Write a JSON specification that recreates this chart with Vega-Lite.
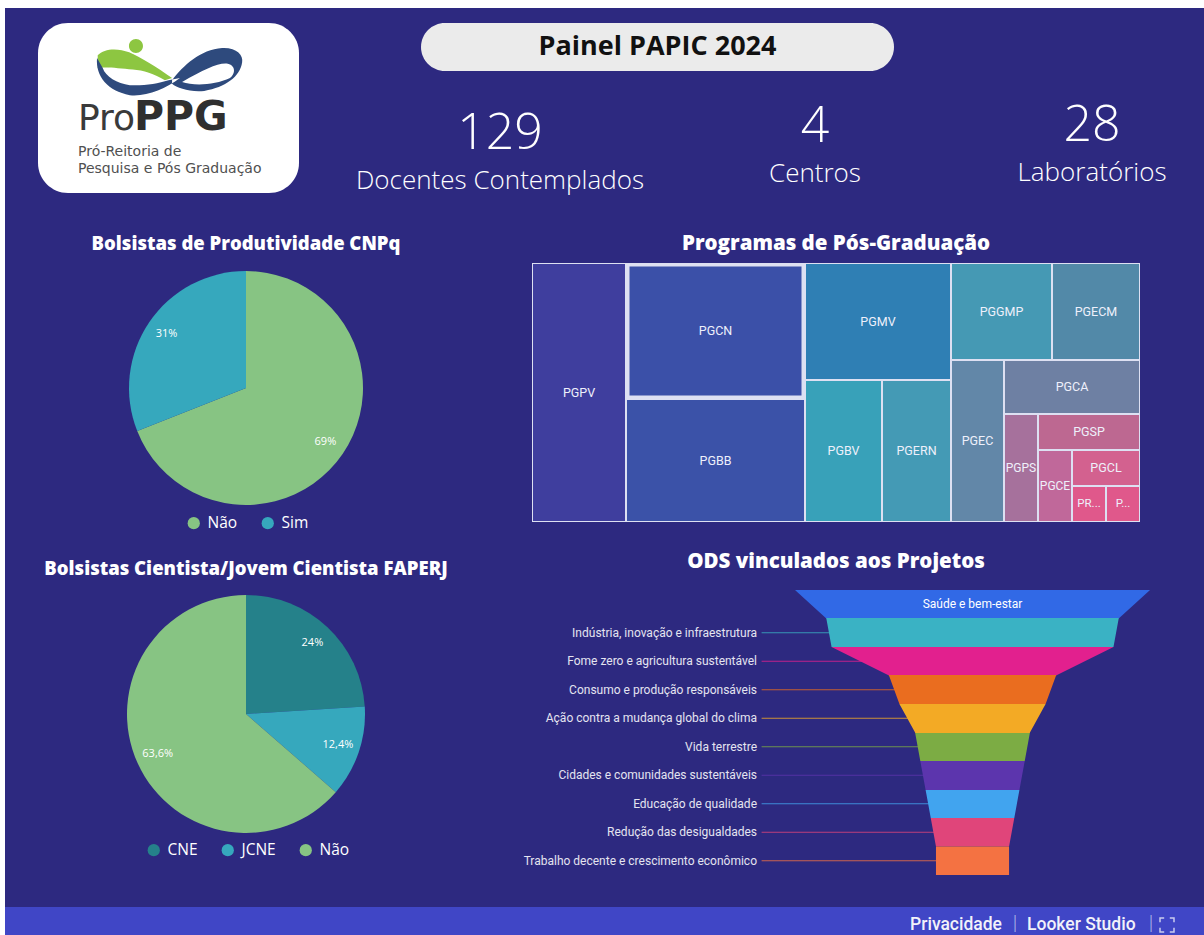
{
"$schema": "https://vega.github.io/schema/vega-lite/v6.json",
"background": "#2d2980",
"padding": 0,
"resolve": {"scale": {"color": "independent", "theta": "independent"}},
"datasets": {
  "programas": [
    {"programa": "PGPV", "docentes": 20},
    {"programa": "PGCN", "docentes": 20},
    {"programa": "PGBB", "docentes": 18},
    {"programa": "PGMV", "docentes": 14},
    {"programa": "PGBV", "docentes": 9},
    {"programa": "PGERN", "docentes": 8},
    {"programa": "PGGMP", "docentes": 8},
    {"programa": "PGECM", "docentes": 7},
    {"programa": "PGEC", "docentes": 7},
    {"programa": "PGCA", "docentes": 6},
    {"programa": "PGPS", "docentes": 3},
    {"programa": "PGSP", "docentes": 3},
    {"programa": "PGCE", "docentes": 2},
    {"programa": "PGCL", "docentes": 2},
    {"programa": "PR...", "docentes": 1},
    {"programa": "P...", "docentes": 1}
  ],
  "ods": [
    {"ods": "Saúde e bem-estar", "projetos": 34},
    {"ods": "Indústria, inovação e infraestrutura", "projetos": 28},
    {"ods": "Fome zero e agricultura sustentável", "projetos": 27},
    {"ods": "Consumo e produção responsáveis", "projetos": 16},
    {"ods": "Ação contra a mudança global do clima", "projetos": 14},
    {"ods": "Vida terrestre", "projetos": 11},
    {"ods": "Cidades e comunidades sustentáveis", "projetos": 10},
    {"ods": "Educação de qualidade", "projetos": 9},
    {"ods": "Redução das desigualdades", "projetos": 8},
    {"ods": "Trabalho decente e crescimento econômico", "projetos": 7}
  ]
},
"vconcat": [
  {"width": 1204, "height": 8, "data": {"values": []}, "mark": "point", "view": {"fill": "#ffffff"}},
  {"resolve": {"scale": {"color": "independent", "theta": "independent"}},
   "hconcat": [
    {"width": 5, "height": 927, "data": {"values": []}, "mark": "point", "view": {"fill": "#ffffff"}},
    {"resolve": {"scale": {"color": "independent", "theta": "independent"}},
     "vconcat": [
      {"hconcat": [
        {"width": 33, "height": 207, "data": {"values": []}, "mark": "point"},
        {"vconcat": [
          {"width": 261, "height": 15, "data": {"values": []}, "mark": "point"},
          {"width": 261, "height": 170, "view": {"fill": "#ffffff", "cornerRadius": 30, "stroke": null},
           "data": {"values": [{"sigla": "Pro", "destaque": "PPG", "linha1": "Pró-Reitoria de", "linha2": "Pesquisa e Pós Graduação"}]},
           "layer": [
            {"mark": {"type": "point", "shape": "M-0.99,-0.2 C-0.9,-0.3 -0.7,-0.3 -0.55,-0.24 C-0.4,-0.18 -0.15,-0.02 0.05,0.12 L-0.05,0.15 C-0.2,0.06 -0.35,0.01 -0.5,0.0 C-0.7,-0.02 -0.9,-0.04 -0.99,-0.02 Z M-0.553,-0.329 A0.098,0.098 0 1,1 -0.357,-0.329 A0.098,0.098 0 1,1 -0.553,-0.329 Z", "size": 20449, "filled": true, "color": "#8dc641", "opacity": 1, "strokeWidth": 0, "xOffset": 0, "yOffset": -38.5}},
            {"mark": {"type": "point", "shape": "M-1.0,-0.16 C-1.02,0.1 -0.85,0.3 -0.54,0.36 C-0.3,0.38 -0.05,0.28 0.16,0.12 L0.0,0.15 C-0.15,0.2 -0.35,0.23 -0.54,0.22 C-0.72,0.2 -0.88,0.1 -0.92,-0.02 Z M0.05,0.15 C0.2,-0.05 0.45,-0.28 0.75,-0.3 C0.95,-0.31 1.05,-0.2 1.03,-0.1 C1.0,0.1 0.8,0.25 0.5,0.3 C0.3,0.32 0.12,0.26 0.05,0.2 Z M0.19,0.175 C0.35,0.23 0.65,0.22 0.86,0.12 C0.93,0.07 0.95,-0.05 0.83,-0.08 C0.7,-0.1 0.5,0.0 0.19,0.175 Z", "size": 20449, "filled": true, "color": "#2e4a7d", "opacity": 1, "strokeWidth": 0, "xOffset": 0, "yOffset": -38.5}},
            {"mark": {"type": "text", "align": "left", "baseline": "alphabetic", "dx": -90.5, "dy": 22, "font": "DejaVu Sans", "fontSize": 36, "color": "#3a3a3a"}, "encoding": {"text": {"field": "sigla"}}},
            {"mark": {"type": "text", "align": "left", "baseline": "alphabetic", "dx": -34.5, "dy": 22, "font": "DejaVu Sans", "fontWeight": "bold", "fontSize": 41, "color": "#2f2f2f"}, "encoding": {"text": {"field": "destaque"}}},
            {"mark": {"type": "text", "align": "left", "baseline": "alphabetic", "dx": -90.5, "dy": 48, "font": "DejaVu Sans", "fontSize": 14, "color": "#505050"}, "encoding": {"text": {"field": "linha1"}}},
            {"mark": {"type": "text", "align": "left", "baseline": "alphabetic", "dx": -90.5, "dy": 65, "font": "DejaVu Sans", "fontSize": 14, "color": "#505050"}, "encoding": {"text": {"field": "linha2"}}}
           ]}
        ]},
        {"vconcat": [
          {"width": 900, "height": 15, "data": {"values": []}, "mark": "point"},
          {"hconcat": [
            {"width": 122, "height": 48, "data": {"values": []}, "mark": "point"},
            {"width": 473, "height": 48, "view": {"fill": "#ebebeb", "cornerRadius": 24, "stroke": null},
             "data": {"values": [{"titulo": "Painel PAPIC 2024"}]},
             "mark": {"type": "text", "font": "Open Sans", "fontWeight": "bold", "fontSize": 27, "color": "#111111"},
             "encoding": {"text": {"field": "titulo"}}}
          ]},
          {"hconcat": [
            {"width": 402, "height": 125, "data": {"values": [{"indicador": "Docentes Contemplados", "total": 129}]},
             "layer": [
              {"mark": {"type": "text", "font": "Open Sans", "fontWeight": 300, "fontSize": 50, "color": "#ffffff"}, "encoding": {"text": {"field": "total", "type": "quantitative"}}},
              {"mark": {"type": "text", "font": "Open Sans", "fontWeight": 300, "fontSize": 26, "color": "#ffffff", "dy": 47}, "encoding": {"text": {"field": "indicador"}}}
             ]},
            {"width": 228, "height": 111, "data": {"values": [{"indicador": "Centros", "total": 4}]},
             "layer": [
              {"mark": {"type": "text", "font": "Open Sans", "fontWeight": 300, "fontSize": 50, "color": "#ffffff"}, "encoding": {"text": {"field": "total", "type": "quantitative"}}},
              {"mark": {"type": "text", "font": "Open Sans", "fontWeight": 300, "fontSize": 26, "color": "#ffffff", "dy": 47}, "encoding": {"text": {"field": "indicador"}}}
             ]},
            {"width": 56, "height": 10, "data": {"values": []}, "mark": "point"},
            {"width": 214, "height": 110, "data": {"values": [{"indicador": "Laboratórios", "total": 28}]},
             "layer": [
              {"mark": {"type": "text", "font": "Open Sans", "fontWeight": 300, "fontSize": 50, "color": "#ffffff"}, "encoding": {"text": {"field": "total", "type": "quantitative"}}},
              {"mark": {"type": "text", "font": "Open Sans", "fontWeight": 300, "fontSize": 26, "color": "#ffffff", "dy": 47}, "encoding": {"text": {"field": "indicador"}}}
             ]}
          ]}
        ]}
       ]},
      {"resolve": {"scale": {"color": "independent", "theta": "independent"}},
       "hconcat": [
        {"resolve": {"scale": {"color": "independent", "theta": "independent"}},
         "vconcat": [
          {"width": 482, "height": 15, "data": {"values": []}, "mark": "point"},
          {"width": 482, "height": 316,
           "layer": [
            {"data": {"values": [{"titulo": "Bolsistas de Produtividade CNPq"}]},
             "mark": {"type": "text", "font": "Open Sans", "fontWeight": 800, "fontSize": 18.5, "color": "#ffffff", "dy": -144},
             "encoding": {"text": {"field": "titulo"}}},
            {"data": {"values": [{"bolsista": "Não", "proporcao": 0.69}, {"bolsista": "Sim", "proporcao": 0.31}]},
             "layer": [
              {"mark": {"type": "arc", "outerRadius": 117},
               "encoding": {
                "theta": {"field": "proporcao", "type": "quantitative", "stack": true},
                "order": {"field": "bolsista", "sort": "ascending"},
                "color": {"field": "bolsista", "type": "nominal", "scale": {"domain": ["Não", "Sim"], "range": ["#87c483", "#36a8bd"]},
                  "legend": {"orient": "none", "legendX": 181, "legendY": 285, "direction": "horizontal", "title": null, "symbolType": "circle", "symbolSize": 150, "symbolStrokeWidth": 0, "labelColor": "#ffffff", "labelFontSize": 15.5, "labelFont": "Open Sans", "columnPadding": 22, "labelOffset": 6, "padding": 0}}}},
              {"mark": {"type": "text", "radius": 96, "color": "#ffffff", "fontSize": 11, "font": "Open Sans"},
               "encoding": {
                "theta": {"field": "proporcao", "type": "quantitative", "stack": true},
                "order": {"field": "bolsista", "sort": "ascending"},
                "detail": {"field": "bolsista", "type": "nominal"},
                "text": {"field": "proporcao", "type": "quantitative", "format": ".1~%"}}}
             ]}
           ]},
          {"width": 482, "height": 8, "data": {"values": []}, "mark": "point"},
          {"width": 482, "height": 320,
           "layer": [
            {"data": {"values": [{"titulo": "Bolsistas Cientista/Jovem Cientista FAPERJ"}]},
             "mark": {"type": "text", "font": "Open Sans", "fontWeight": 800, "fontSize": 18.5, "color": "#ffffff", "dy": -145},
             "encoding": {"text": {"field": "titulo"}}},
            {"data": {"values": [{"bolsa": "CNE", "proporcao": 0.24}, {"bolsa": "JCNE", "proporcao": 0.124}, {"bolsa": "Não", "proporcao": 0.636}]},
             "layer": [
              {"mark": {"type": "arc", "outerRadius": 119},
               "encoding": {
                "theta": {"field": "proporcao", "type": "quantitative", "stack": true},
                "order": {"field": "bolsa", "sort": "ascending"},
                "color": {"field": "bolsa", "type": "nominal", "scale": {"domain": ["CNE", "JCNE", "Não"], "range": ["#25818a", "#36a8bd", "#87c483"]},
                  "legend": {"orient": "none", "legendX": 141, "legendY": 288, "direction": "horizontal", "title": null, "symbolType": "circle", "symbolSize": 150, "symbolStrokeWidth": 0, "labelColor": "#ffffff", "labelFontSize": 15.5, "labelFont": "Open Sans", "columnPadding": 22, "labelOffset": 6, "padding": 0}}}},
              {"mark": {"type": "text", "radius": 97, "color": "#ffffff", "fontSize": 11, "font": "Open Sans"},
               "encoding": {
                "theta": {"field": "proporcao", "type": "quantitative", "stack": true},
                "order": {"field": "bolsa", "sort": "ascending"},
                "detail": {"field": "bolsa", "type": "nominal"},
                "text": {"field": "proporcao", "type": "quantitative", "format": ".1~%"}}}
             ]}
           ]}
         ]},
        {"resolve": {"scale": {"color": "independent", "theta": "independent"}},
         "vconcat": [
          {"width": 698, "height": 48, "data": {"values": [{"titulo": "Programas de Pós-Graduação"}]},
           "mark": {"type": "text", "font": "Open Sans", "fontWeight": 800, "fontSize": 20.5, "color": "#ffffff", "dy": 5},
           "encoding": {"text": {"field": "titulo"}}},
          {"hconcat": [
            {"width": 45, "height": 259, "data": {"values": []}, "mark": "point"},
            {"hconcat": [
              {"width": 94, "height": 259, "data": {"name": "programas"}, "transform": [{"filter": {"field": "programa", "equal": "PGPV"}}],
               "layer": [{"mark": {"type": "rect", "stroke": "#dde0f2", "strokeWidth": 2, "clip": true}, "encoding": {"color": {"field": "programa", "type": "nominal", "legend": null}}},
                         {"mark": {"type": "text", "color": "#eef0fb", "fontSize": 12.5, "font": "Roboto"}, "encoding": {"text": {"field": "programa"}}}]},
              {"vconcat": [
                {"width": 179, "height": 136, "data": {"name": "programas"}, "transform": [{"filter": {"field": "programa", "equal": "PGCN"}}],
                 "layer": [{"mark": {"type": "rect", "stroke": "#dde0f2", "strokeWidth": 7, "clip": true}, "encoding": {"color": {"field": "programa", "type": "nominal", "legend": null}}},
                           {"mark": {"type": "text", "color": "#eef0fb", "fontSize": 12.5, "font": "Roboto"}, "encoding": {"text": {"field": "programa"}}}]},
                {"width": 179, "height": 123, "data": {"name": "programas"}, "transform": [{"filter": {"field": "programa", "equal": "PGBB"}}],
                 "layer": [{"mark": {"type": "rect", "stroke": "#dde0f2", "strokeWidth": 2, "clip": true}, "encoding": {"color": {"field": "programa", "type": "nominal", "legend": null}}},
                           {"mark": {"type": "text", "color": "#eef0fb", "fontSize": 12.5, "font": "Roboto"}, "encoding": {"text": {"field": "programa"}}}]}
              ]},
              {"vconcat": [
                {"width": 146, "height": 117, "data": {"name": "programas"}, "transform": [{"filter": {"field": "programa", "equal": "PGMV"}}],
                 "layer": [{"mark": {"type": "rect", "stroke": "#dde0f2", "strokeWidth": 2, "clip": true}, "encoding": {"color": {"field": "programa", "type": "nominal", "legend": null}}},
                           {"mark": {"type": "text", "color": "#eef0fb", "fontSize": 12.5, "font": "Roboto"}, "encoding": {"text": {"field": "programa"}}}]},
                {"hconcat": [
                  {"width": 77, "height": 142, "data": {"name": "programas"}, "transform": [{"filter": {"field": "programa", "equal": "PGBV"}}],
                   "layer": [{"mark": {"type": "rect", "stroke": "#dde0f2", "strokeWidth": 2, "clip": true}, "encoding": {"color": {"field": "programa", "type": "nominal", "legend": null}}},
                             {"mark": {"type": "text", "color": "#eef0fb", "fontSize": 12.5, "font": "Roboto"}, "encoding": {"text": {"field": "programa"}}}]},
                  {"width": 69, "height": 142, "data": {"name": "programas"}, "transform": [{"filter": {"field": "programa", "equal": "PGERN"}}],
                   "layer": [{"mark": {"type": "rect", "stroke": "#dde0f2", "strokeWidth": 2, "clip": true}, "encoding": {"color": {"field": "programa", "type": "nominal", "legend": null}}},
                             {"mark": {"type": "text", "color": "#eef0fb", "fontSize": 12.5, "font": "Roboto"}, "encoding": {"text": {"field": "programa"}}}]}
                ]}
              ]},
              {"vconcat": [
                {"hconcat": [
                  {"width": 101, "height": 97, "data": {"name": "programas"}, "transform": [{"filter": {"field": "programa", "equal": "PGGMP"}}],
                   "layer": [{"mark": {"type": "rect", "stroke": "#dde0f2", "strokeWidth": 2, "clip": true}, "encoding": {"color": {"field": "programa", "type": "nominal", "legend": null}}},
                             {"mark": {"type": "text", "color": "#eef0fb", "fontSize": 12.5, "font": "Roboto"}, "encoding": {"text": {"field": "programa"}}}]},
                  {"width": 88, "height": 97, "data": {"name": "programas"}, "transform": [{"filter": {"field": "programa", "equal": "PGECM"}}],
                   "layer": [{"mark": {"type": "rect", "stroke": "#dde0f2", "strokeWidth": 2, "clip": true}, "encoding": {"color": {"field": "programa", "type": "nominal", "legend": null}}},
                             {"mark": {"type": "text", "color": "#eef0fb", "fontSize": 12.5, "font": "Roboto"}, "encoding": {"text": {"field": "programa"}}}]}
                ]},
                {"hconcat": [
                  {"width": 53, "height": 162, "data": {"name": "programas"}, "transform": [{"filter": {"field": "programa", "equal": "PGEC"}}],
                   "layer": [{"mark": {"type": "rect", "stroke": "#dde0f2", "strokeWidth": 2, "clip": true}, "encoding": {"color": {"field": "programa", "type": "nominal", "legend": null}}},
                             {"mark": {"type": "text", "color": "#eef0fb", "fontSize": 12.5, "font": "Roboto"}, "encoding": {"text": {"field": "programa"}}}]},
                  {"vconcat": [
                    {"width": 136, "height": 54, "data": {"name": "programas"}, "transform": [{"filter": {"field": "programa", "equal": "PGCA"}}],
                     "layer": [{"mark": {"type": "rect", "stroke": "#dde0f2", "strokeWidth": 2, "clip": true}, "encoding": {"color": {"field": "programa", "type": "nominal", "legend": null}}},
                               {"mark": {"type": "text", "color": "#eef0fb", "fontSize": 12.5, "font": "Roboto"}, "encoding": {"text": {"field": "programa"}}}]},
                    {"hconcat": [
                      {"width": 34, "height": 108, "data": {"name": "programas"}, "transform": [{"filter": {"field": "programa", "equal": "PGPS"}}],
                       "layer": [{"mark": {"type": "rect", "stroke": "#dde0f2", "strokeWidth": 2, "clip": true}, "encoding": {"color": {"field": "programa", "type": "nominal", "legend": null}}},
                                 {"mark": {"type": "text", "color": "#eef0fb", "fontSize": 12, "font": "Roboto"}, "encoding": {"text": {"field": "programa"}}}]},
                      {"vconcat": [
                        {"width": 102, "height": 36, "data": {"name": "programas"}, "transform": [{"filter": {"field": "programa", "equal": "PGSP"}}],
                         "layer": [{"mark": {"type": "rect", "stroke": "#dde0f2", "strokeWidth": 2, "clip": true}, "encoding": {"color": {"field": "programa", "type": "nominal", "legend": null}}},
                                   {"mark": {"type": "text", "color": "#eef0fb", "fontSize": 12.5, "font": "Roboto"}, "encoding": {"text": {"field": "programa"}}}]},
                        {"hconcat": [
                          {"width": 34, "height": 72, "data": {"name": "programas"}, "transform": [{"filter": {"field": "programa", "equal": "PGCE"}}],
                           "layer": [{"mark": {"type": "rect", "stroke": "#dde0f2", "strokeWidth": 2, "clip": true}, "encoding": {"color": {"field": "programa", "type": "nominal", "legend": null}}},
                                     {"mark": {"type": "text", "color": "#eef0fb", "fontSize": 12, "font": "Roboto"}, "encoding": {"text": {"field": "programa"}}}]},
                          {"vconcat": [
                            {"width": 68, "height": 36, "data": {"name": "programas"}, "transform": [{"filter": {"field": "programa", "equal": "PGCL"}}],
                             "layer": [{"mark": {"type": "rect", "stroke": "#dde0f2", "strokeWidth": 2, "clip": true}, "encoding": {"color": {"field": "programa", "type": "nominal", "legend": null}}},
                                       {"mark": {"type": "text", "color": "#eef0fb", "fontSize": 12.5, "font": "Roboto"}, "encoding": {"text": {"field": "programa"}}}]},
                            {"hconcat": [
                              {"width": 34, "height": 36, "data": {"name": "programas"}, "transform": [{"filter": {"field": "programa", "equal": "PR..."}}],
                               "layer": [{"mark": {"type": "rect", "stroke": "#dde0f2", "strokeWidth": 2, "clip": true}, "encoding": {"color": {"field": "programa", "type": "nominal", "legend": null}}},
                                         {"mark": {"type": "text", "color": "#eef0fb", "fontSize": 11.5, "font": "Roboto"}, "encoding": {"text": {"field": "programa"}}}]},
                              {"width": 34, "height": 36, "data": {"name": "programas"}, "transform": [{"filter": {"field": "programa", "equal": "P..."}}],
                               "layer": [{"mark": {"type": "rect", "stroke": "#dde0f2", "strokeWidth": 2, "clip": true}, "encoding": {"color": {"field": "programa", "type": "nominal", "legend": null}}},
                                         {"mark": {"type": "text", "color": "#eef0fb", "fontSize": 11.5, "font": "Roboto"}, "encoding": {"text": {"field": "programa"}}}]}
                            ]}
                          ]}
                        ]}
                      ]}
                    ]}
                  ]}
                ]}
              ]}
            ]}
          ]},
          {"width": 698, "height": 68, "data": {"values": [{"titulo": "ODS vinculados aos Projetos"}]},
           "mark": {"type": "text", "font": "Open Sans", "fontWeight": 800, "fontSize": 20.5, "color": "#ffffff", "dy": 6},
           "encoding": {"text": {"field": "titulo"}}},
          {"hconcat": [
            {"width": 33, "height": 285, "data": {"values": []}, "mark": "point"},
            {"width": 632, "height": 285,
             "data": {"name": "ods"},
             "layer": [
              {"transform": [{"filter": {"not": {"field": "ods", "equal": "Saúde e bem-estar"}}}],
               "mark": {"type": "rule", "strokeWidth": 1, "opacity": 0.8},
               "encoding": {
                "y": {"field": "ods", "type": "nominal", "sort": ["Saúde e bem-estar", "Indústria, inovação e infraestrutura", "Fome zero e agricultura sustentável", "Consumo e produção responsáveis", "Ação contra a mudança global do clima", "Vida terrestre", "Cidades e comunidades sustentáveis", "Educação de qualidade", "Redução das desigualdades", "Trabalho decente e crescimento econômico"],
                      "scale": {"type": "band", "domain": ["Saúde e bem-estar", "Indústria, inovação e infraestrutura", "Fome zero e agricultura sustentável", "Consumo e produção responsáveis", "Ação contra a mudança global do clima", "Vida terrestre", "Cidades e comunidades sustentáveis", "Educação de qualidade", "Redução das desigualdades", "Trabalho decente e crescimento econômico"], "paddingInner": 0, "paddingOuter": 0}, "axis": null},
                "x": {"datum": -3.2, "type": "quantitative", "scale": {"domain": [-26.34, 34.19], "zero": false, "nice": false}, "axis": null},
                "x2": {"datum": 17},
                "color": {"field": "ods", "type": "nominal", "legend": null,
                          "scale": {"domain": ["Saúde e bem-estar", "Indústria, inovação e infraestrutura", "Fome zero e agricultura sustentável", "Consumo e produção responsáveis", "Ação contra a mudança global do clima", "Vida terrestre", "Cidades e comunidades sustentáveis", "Educação de qualidade", "Redução das desigualdades", "Trabalho decente e crescimento econômico"],
                                    "range": ["#3169e6", "#3ab2c4", "#e2208e", "#ea6d1f", "#f3aa25", "#7cac44", "#5c35ad", "#41a4ef", "#e0457a", "#f47242"]}}}},
              {"mark": {"type": "area", "interpolate": "linear", "opacity": 1,
                        "color": {"gradient": "linear", "x1": 0, "y1": 0, "x2": 0, "y2": 1, "stops": [
                          {"offset": 0, "color": "#3169e6"}, {"offset": 0.1111, "color": "#3169e6"},
                          {"offset": 0.1111, "color": "#3ab2c4"}, {"offset": 0.2222, "color": "#3ab2c4"},
                          {"offset": 0.2222, "color": "#e2208e"}, {"offset": 0.3333, "color": "#e2208e"},
                          {"offset": 0.3333, "color": "#ea6d1f"}, {"offset": 0.4444, "color": "#ea6d1f"},
                          {"offset": 0.4444, "color": "#f3aa25"}, {"offset": 0.5556, "color": "#f3aa25"},
                          {"offset": 0.5556, "color": "#7cac44"}, {"offset": 0.6667, "color": "#7cac44"},
                          {"offset": 0.6667, "color": "#5c35ad"}, {"offset": 0.7778, "color": "#5c35ad"},
                          {"offset": 0.7778, "color": "#41a4ef"}, {"offset": 0.8889, "color": "#41a4ef"},
                          {"offset": 0.8889, "color": "#e0457a"}, {"offset": 1, "color": "#e0457a"}]}},
               "encoding": {
                "y": {"field": "ods", "type": "nominal", "bandPosition": 0, "sort": ["Saúde e bem-estar", "Indústria, inovação e infraestrutura", "Fome zero e agricultura sustentável", "Consumo e produção responsáveis", "Ação contra a mudança global do clima", "Vida terrestre", "Cidades e comunidades sustentáveis", "Educação de qualidade", "Redução das desigualdades", "Trabalho decente e crescimento econômico"], "axis": null},
                "x": {"field": "projetos", "type": "quantitative", "stack": "center", "axis": null}}},
              {"mark": {"type": "bar"},
               "encoding": {
                "y": {"field": "ods", "type": "nominal", "sort": ["Saúde e bem-estar", "Indústria, inovação e infraestrutura", "Fome zero e agricultura sustentável", "Consumo e produção responsáveis", "Ação contra a mudança global do clima", "Vida terrestre", "Cidades e comunidades sustentáveis", "Educação de qualidade", "Redução das desigualdades", "Trabalho decente e crescimento econômico"], "axis": null},
                "x": {"field": "projetos", "type": "quantitative", "stack": "center", "axis": null},
                "color": {"field": "ods", "type": "nominal", "legend": null},
                "opacity": {"condition": {"test": "datum.ods === 'Trabalho decente e crescimento econômico'", "value": 1}, "value": 0}}},
              {"transform": [{"filter": {"not": {"field": "ods", "equal": "Saúde e bem-estar"}}}],
               "mark": {"type": "text", "align": "right", "color": "#e4e4f0", "fontSize": 12, "font": "Roboto"},
               "encoding": {
                "y": {"field": "ods", "type": "nominal", "axis": null},
                "x": {"datum": -3.64, "type": "quantitative"},
                "text": {"field": "ods"}}},
              {"transform": [{"filter": {"field": "ods", "equal": "Saúde e bem-estar"}}],
               "mark": {"type": "text", "color": "#ffffff", "fontSize": 12, "font": "Roboto"},
               "encoding": {
                "y": {"field": "ods", "type": "nominal", "axis": null},
                "x": {"datum": 17, "type": "quantitative"},
                "text": {"field": "ods"}}}
             ]}
          ]}
         ]}
       ]},
      {"width": 1199, "height": 32, "data": {"values": []}, "mark": "point"},
      {"hconcat": [
        {"width": 895, "height": 28, "data": {"values": []}, "mark": "point", "view": {"fill": "#4046c6", "stroke": null}},
        {"width": 304, "height": 28, "view": {"fill": "#4046c6", "stroke": null},
         "data": {"values": [{"link": "Privacidade", "produto": "Looker Studio"}]},
         "layer": [
          {"mark": {"type": "text", "align": "right", "dx": -50, "dy": 4, "font": "Roboto", "fontSize": 17.5, "fontWeight": 500, "color": "#f2f2fa"}, "encoding": {"text": {"field": "link"}}},
          {"mark": {"type": "text", "dx": -37, "dy": 3, "font": "Roboto", "fontSize": 20, "fontWeight": 300, "color": "#a9aee6"}, "encoding": {"text": {"value": "|"}}},
          {"mark": {"type": "text", "align": "left", "dx": -25, "dy": 4, "font": "Roboto", "fontSize": 17.5, "fontWeight": 500, "color": "#f2f2fa"}, "encoding": {"text": {"field": "produto"}}},
          {"mark": {"type": "text", "dx": 99, "dy": 3, "font": "Roboto", "fontSize": 20, "fontWeight": 300, "color": "#a9aee6"}, "encoding": {"text": {"value": "|"}}},
          {"mark": {"type": "point", "shape": "M-1,-0.4V-1H-0.4M0.4,-1H1V-0.4M1,0.4V1H0.4M-0.4,1H-1V0.4", "size": 196, "filled": false, "color": "#c9cbee", "strokeWidth": 1.5, "opacity": 1, "xOffset": 115, "yOffset": 4}}
         ]}
      ]}
     ]}
   ]}
],
"config": {
  "view": {"stroke": null},
  "concat": {"spacing": 0},
  "range": {"category": ["#e0588b", "#3b52a8", "#38a1b9", "#6e80a3", "#c0689a", "#d3618f", "#3b50a8", "#6287a8", "#5289a8", "#449ab5", "#4599b4", "#2f7fb4", "#a6719c", "#3f3e9e", "#bd6891", "#e0588b"]},
  "locale": {"number": {"decimal": ",", "thousands": ".", "grouping": [3], "currency": ["R$ ", ""]}}
}
}
